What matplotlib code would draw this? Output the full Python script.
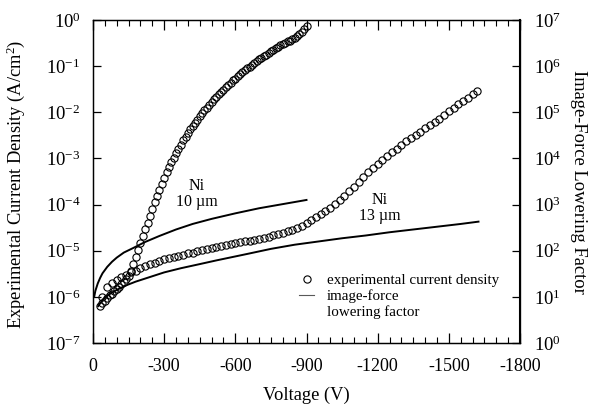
import numpy as np
import matplotlib
matplotlib.use("Agg")
import matplotlib.pyplot as plt
from matplotlib.lines import Line2D
from matplotlib.ticker import MultipleLocator, LogLocator, NullLocator

plt.rcParams["font.family"] = ["Liberation Serif", "DejaVu Serif"]
plt.rcParams["mathtext.fontset"] = "custom"
plt.rcParams["mathtext.rm"] = "Liberation Serif"
plt.rcParams["mathtext.it"] = "Liberation Serif:italic"
plt.rcParams["axes.unicode_minus"] = False

# ---- measured current density, Ni 10 um (voltage in V, log10 of J in A/cm^2)
volt_10um = [-30, -40, -50, -60, -70, -80, -90, -100, -110, -120, -130, -140,
             -150, -160, -170, -180, -190, -200, -210, -220, -230, -240, -250,
             -260, -270, -280, -290, -300, -310, -320, -330, -340, -350, -360,
             -370, -380, -390, -400, -410, -420, -430, -440, -450, -460, -470,
             -480, -490, -500, -510, -520, -530, -540, -550, -560, -570, -580,
             -590, -600, -610, -620, -630, -640, -650, -660, -670, -680, -690,
             -700, -710, -720, -730, -740, -750, -760, -770, -780, -790, -800,
             -810, -820, -830, -840, -850, -860, -870, -880, -890, -900]
logj_10um = [-6.19, -6.13, -6.08, -6.03, -5.97, -5.93, -5.88, -5.83, -5.78,
             -5.73, -5.68, -5.62, -5.55, -5.44, -5.29, -5.14, -4.99, -4.84,
             -4.69, -4.54, -4.39, -4.24, -4.09, -3.95, -3.81, -3.68, -3.55,
             -3.42, -3.30, -3.19, -3.08, -2.98, -2.88, -2.79, -2.70, -2.61,
             -2.53, -2.45, -2.37, -2.30, -2.23, -2.16, -2.09, -2.02, -1.96,
             -1.90, -1.84, -1.78, -1.72, -1.66, -1.61, -1.56, -1.51, -1.46,
             -1.41, -1.36, -1.31, -1.27, -1.22, -1.18, -1.13, -1.09, -1.05,
             -1.01, -0.97, -0.93, -0.89, -0.85, -0.82, -0.78, -0.75, -0.71,
             -0.68, -0.65, -0.61, -0.58, -0.55, -0.52, -0.49, -0.46, -0.45,
             -0.42, -0.38, -0.34, -0.30, -0.26, -0.20, -0.14]

# ---- measured current density, Ni 13 um
volt_13um = [-40, -60, -80, -100, -120, -140, -160, -180, -200, -220, -240,
             -260, -280, -300, -320, -340, -360, -380, -400, -420, -440, -460,
             -480, -500, -520, -540, -560, -580, -600, -620, -640, -660, -680,
             -700, -720, -740, -760, -780, -800, -820, -840, -860, -880, -900,
             -920, -940, -960, -980, -1000, -1020, -1040, -1060, -1080, -1100,
             -1120, -1140, -1160, -1180, -1200, -1220, -1240, -1260, -1280,
             -1300, -1320, -1340, -1360, -1380, -1400, -1420, -1440, -1460,
             -1480, -1500, -1520, -1540, -1560, -1580, -1600, -1620]
logj_13um = [-6.00, -5.78, -5.70, -5.64, -5.58, -5.52, -5.47, -5.43, -5.38,
             -5.34, -5.29, -5.26, -5.22, -5.19, -5.16, -5.14, -5.11, -5.09,
             -5.06, -5.04, -5.01, -4.99, -4.97, -4.94, -4.92, -4.90, -4.88,
             -4.86, -4.84, -4.82, -4.80, -4.78, -4.76, -4.74, -4.72, -4.70,
             -4.67, -4.64, -4.61, -4.58, -4.55, -4.51, -4.46, -4.40, -4.34,
             -4.28, -4.21, -4.14, -4.07, -3.99, -3.90, -3.81, -3.71, -3.61,
             -3.50, -3.40, -3.30, -3.20, -3.11, -3.03, -2.95, -2.87, -2.79,
             -2.71, -2.63, -2.56, -2.49, -2.42, -2.35, -2.28, -2.21, -2.14,
             -2.06, -1.98, -1.90, -1.82, -1.75, -1.68, -1.60, -1.54]

# ---- image-force lowering factor (log10), right axis
volt_if_10um = [-5, -10, -20, -30, -40, -60, -80, -100, -130, -170, -220,
                -280, -350, -420, -500, -600, -700, -800, -900]
logf_if_10um = [1.00, 1.13, 1.29, 1.41, 1.51, 1.65, 1.76, 1.85, 1.96, 2.06,
                2.19, 2.32, 2.46, 2.58, 2.69, 2.81, 2.92, 3.01, 3.10]

volt_if_13um = [-22, -30, -45, -70, -100, -140, -180, -240, -300, -370, -450,
                -520, -650, -750, -850, -950, -1050, -1150, -1250, -1350,
                -1450, -1550, -1625]
logf_if_13um = [0.80, 0.86, 0.96, 1.06, 1.15, 1.25, 1.33, 1.43, 1.53, 1.62,
                1.71, 1.79, 1.93, 2.04, 2.13, 2.20, 2.27, 2.33, 2.40, 2.46,
                2.52, 2.58, 2.63]

fig = plt.figure(figsize=(5.92, 4.05), dpi=100)
ax = fig.add_axes([93 / 592, 62 / 405, 427 / 592, 323 / 405])
ax2 = ax.twinx()

marker_style = dict(ls="none", marker="o", mfc="none", mec="black",
                    ms=5.2, mew=0.8)
ax.semilogy(volt_10um, 10 ** np.array(logj_10um), **marker_style)
ax.semilogy(volt_13um, 10 ** np.array(logj_13um), **marker_style)

ax2.semilogy(volt_if_10um, 10 ** np.array(logf_if_10um), color="black", lw=1.4)
ax2.semilogy(volt_if_13um, 10 ** np.array(logf_if_13um), color="black", lw=1.4)

ax.set_xlim(0, -1800)
ax.set_ylim(1e-7, 1)
ax2.set_ylim(1, 1e7)

ax.xaxis.set_major_locator(MultipleLocator(300))
ax.xaxis.set_minor_locator(MultipleLocator(50))
for a in (ax, ax2):
    a.yaxis.set_major_locator(LogLocator(base=10, numticks=12))
    a.yaxis.set_minor_locator(NullLocator())

ax.tick_params(axis="x", which="both", direction="in", top=True, bottom=True,
               labelsize=13, pad=11)
ax.tick_params(axis="x", which="major", length=7, width=0.9)
ax.tick_params(axis="x", which="minor", length=4, width=0.8)
ax.tick_params(axis="y", which="major", direction="in", left=True, right=False,
               length=6, width=0.9, labelsize=13.5, pad=9)
ax2.tick_params(axis="y", which="major", direction="in", right=True,
                length=6, width=0.9, labelsize=13.5, pad=10)

for a in (ax, ax2):
    for s in a.spines.values():
        s.set_linewidth(0.9)
ax2.spines["right"].set_linewidth(1.5)

ax.set_xlabel("Voltage (V)", fontsize=13.3)
ax.xaxis.set_label_coords(0.5, -0.136)
ax.set_ylabel("Experimental Current Density (A/cm$^2$)", fontsize=13.3)
ax.yaxis.set_label_coords(-0.155, 0.49)
ax2.set_ylabel("Image-Force Lowering Factor", fontsize=13.3, rotation=-90,
               va="center")
ax2.yaxis.set_label_coords(1.137, 0.5)

ax.text(-438, 10 ** -3.77, "Ni\n10 µm", ha="center", va="center",
        fontsize=11.5, linespacing=1.0)
ax.text(-1210, 10 ** -4.07, "Ni\n13 µm", ha="center", va="center",
        fontsize=11.5, linespacing=1.0)

handles = [Line2D([], [], **marker_style),
           Line2D([], [], color="0.35", lw=0.8),
           Line2D([], [], ls="none")]
labels = ["experimental current density", "image-force", "lowering factor"]
ax2.legend(handles, labels, loc="upper left", bbox_to_anchor=(0.483, 0.214),
           frameon=False, fontsize=10.8, handlelength=1.0, handletextpad=0.85,
           labelspacing=0.14, borderpad=0, borderaxespad=0)

fig.savefig("out.png", dpi=100)
